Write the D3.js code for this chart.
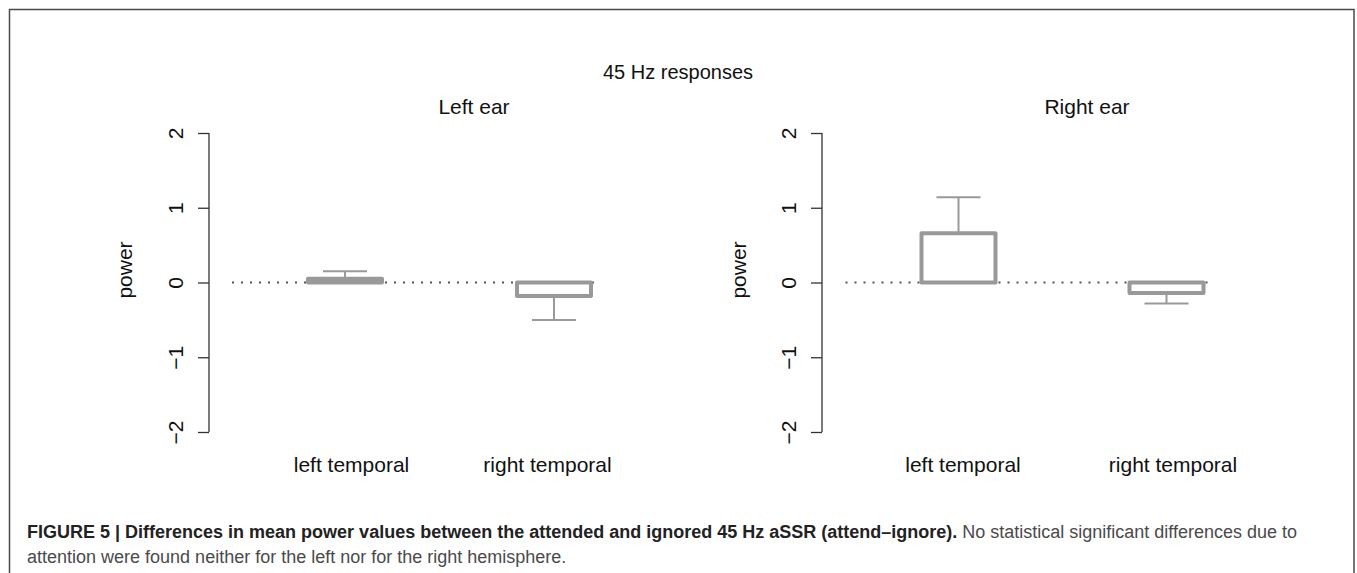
<!DOCTYPE html>
<html>
<head>
<meta charset="utf-8">
<script src="https://cdn.jsdelivr.net/npm/d3@7"></script>
<style>
  body { margin: 0; background: #fff; }
  svg { display: block; }
</style>
</head>
<body>
<svg id="chart" width="1357" height="573"></svg>
<script>
// ---- data ----
const mainTitle = "45 Hz responses";
const panelTitles = ["Left ear", "Right ear"];
const categories = ["left temporal", "right temporal"];
const barValues = [
  [0.05, -0.18],   // Left ear
  [0.66, -0.14]    // Right ear
];
const errValues = [
  [0.15, -0.50],   // whisker ends, Left ear
  [1.14, -0.28]    // Right ear
];
const yTicks = [-2, -1, 0, 1, 2];
const yLabel = "power";
const captionBold = "FIGURE 5 | Differences in mean power values between the attended and ignored 45 Hz aSSR (attend–ignore).";
const captionRest1 = " No statistical significant differences due to";
const captionLine2 = "attention were found neither for the left nor for the right hemisphere.";

// ---- layout ----
const svg = d3.select("#chart");
const font = "'Liberation Sans', Arial, Helvetica, sans-serif";
const gray = "#999999";

svg.append("rect")
  .attr("x", 9.5).attr("y", 9.5)
  .attr("width", 1344.5).attr("height", 600)
  .attr("fill", "none").attr("stroke", "#4a4a4a").attr("stroke-width", 1.5);

svg.append("text")
  .attr("x", 678).attr("y", 79)
  .attr("text-anchor", "middle")
  .attr("font-family", font).attr("font-size", 20)
  .attr("fill", "#111")
  .text(mainTitle);

const y = d3.scaleLinear().domain([-2, 2]).range([432, 133]);

const panels = [
  { axisX: 209, centers: [345, 554], labelCenters: [351.5, 547.5], titleX: 474, ylabX: 132 },
  { axisX: 822, centers: [958.5, 1166.5], labelCenters: [963, 1173], titleX: 1087, ylabX: 746 }
];

panels.forEach((p, i) => {
  const g = svg.append("g");
  const x = d3.scalePoint().domain(categories).range(p.centers);
  const xl = d3.scalePoint().domain(categories).range(p.labelCenters);
  const boxW = 74, capW = 44;

  // panel title
  g.append("text")
    .attr("x", p.titleX).attr("y", 114)
    .attr("text-anchor", "middle")
    .attr("font-family", font).attr("font-size", 21)
    .attr("fill", "#111")
    .text(panelTitles[i]);

  // y axis
  const axis = d3.axisLeft(y).tickValues(yTicks).tickSize(11).tickPadding(0)
    .tickFormat(d => d < 0 ? "\u2212" + Math.abs(d) : d);
  const ag = g.append("g").attr("transform", `translate(${p.axisX},0)`).call(axis);
  ag.select(".domain").attr("d", `M0,${y(2)}V${y(-2)}`).attr("stroke", "#333").attr("stroke-width", 1.3);
  ag.selectAll(".tick line").attr("stroke", "#333").attr("stroke-width", 1.3);
  ag.selectAll(".tick text")
    .attr("font-family", font).attr("font-size", 21).attr("fill", "#111")
    .attr("text-anchor", "middle")
    .attr("transform", "rotate(-90)")
    .attr("x", 0).attr("y", -26)
    .attr("dy", 0);

  // y label
  g.append("text")
    .attr("transform", `translate(${p.ylabX},270) rotate(-90)`)
    .attr("text-anchor", "middle")
    .attr("font-family", font).attr("font-size", 21).attr("fill", "#111")
    .text(yLabel);

  // dotted zero line
  const x0 = x(categories[0]) - 113, x1 = x(categories[1]) + 46;
  g.append("line")
    .attr("x1", x0).attr("x2", x1)
    .attr("y1", y(0)).attr("y2", y(0))
    .attr("stroke", "#555").attr("stroke-width", 2)
    .attr("stroke-dasharray", "2,7");

  categories.forEach((c, j) => {
    const cx = x(c);
    const v = barValues[i][j], e = errValues[i][j];
    // whisker
    g.append("line")
      .attr("x1", cx).attr("x2", cx)
      .attr("y1", y(v)).attr("y2", y(e))
      .attr("stroke", gray).attr("stroke-width", 2);
    g.append("line")
      .attr("x1", cx - capW / 2).attr("x2", cx + capW / 2)
      .attr("y1", y(e)).attr("y2", y(e))
      .attr("stroke", gray).attr("stroke-width", 2);
    // bar
    g.append("rect")
      .attr("x", cx - boxW / 2)
      .attr("y", Math.min(y(0), y(v)))
      .attr("width", boxW)
      .attr("height", Math.abs(y(v) - y(0)))
      .attr("fill", "#fff")
      .attr("stroke", gray).attr("stroke-width", 4)
      .attr("stroke-linejoin", "round");
    // category label
    g.append("text")
      .attr("x", xl(c)).attr("y", 472)
      .attr("text-anchor", "middle")
      .attr("font-family", font).attr("font-size", 21).attr("fill", "#111")
      .text(c);
  });
});

// caption
const cap = svg.append("text")
  .attr("x", 27).attr("y", 538)
  .attr("font-family", font).attr("font-size", 18);
cap.append("tspan").attr("font-weight", "bold").attr("fill", "#222").text(captionBold);
cap.append("tspan").attr("fill", "#4a4a4a").text(captionRest1);
svg.append("text")
  .attr("x", 27).attr("y", 563)
  .attr("font-family", font).attr("font-size", 18).attr("fill", "#4a4a4a")
  .text(captionLine2);
</script>
</body>
</html>
